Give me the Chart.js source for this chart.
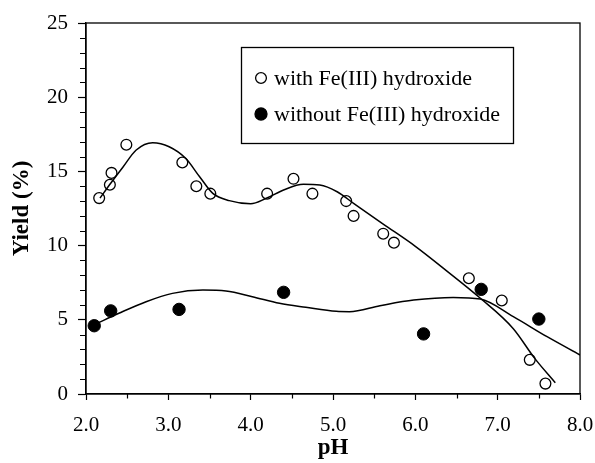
<!DOCTYPE html>
<html>
<head>
<meta charset="utf-8">
<script src="https://cdn.jsdelivr.net/npm/chart.js@4/dist/chart.umd.min.js"></script>
<style>
html,body{margin:0;padding:0;background:#fff;}
#wrap{width:595px;height:463px;position:relative;}
</style>
</head>
<body>
<div id="wrap"><canvas id="c" width="595" height="463"></canvas></div>
<script>
// ---- data ----
const withLabel = 'with Fe(III) hydroxide';
const withoutLabel = 'without Fe(III) hydroxide';
const withX = [2.16, 2.29, 2.31, 2.49, 3.17, 3.34, 3.51, 4.20, 4.52, 4.75, 5.16, 5.25, 5.61, 5.74, 6.65, 7.05, 7.39, 7.58];
const withY = [13.2, 14.1, 14.9, 16.8, 15.6, 14.0, 13.5, 13.5, 14.5, 13.5, 13.0, 12.0, 10.8, 10.2, 7.8, 6.3, 2.3, 0.7];
const withoutX = [2.10, 2.30, 3.13, 4.40, 6.10, 6.80, 7.50];
const withoutY = [4.6, 5.6, 5.7, 6.85, 4.05, 7.05, 5.05];
// fitted curves (traced)
const fitWithX = [2.17, 2.30, 2.45, 2.61, 2.81, 3.01, 3.21, 3.38, 3.54, 3.74, 4.00, 4.19, 4.40, 4.64, 4.84, 5.05, 5.25, 5.61, 6.00, 6.38, 6.79, 7.19, 7.45, 7.70];
const fitWithY = [13.2, 14.2, 15.3, 16.44, 16.93, 16.66, 15.88, 14.64, 13.52, 13.03, 12.82, 13.19, 13.75, 14.13, 14.08, 13.63, 12.85, 11.45, 9.95, 8.3, 6.45, 4.4, 2.4, 0.76];
const fitWithoutX = [2.12, 2.40, 2.73, 3.05, 3.42, 3.70, 4.02, 4.35, 4.67, 5.04, 5.20, 5.57, 5.98, 6.46, 6.79, 7.19, 7.60, 8.00];
const fitWithoutY = [4.72, 5.44, 6.22, 6.78, 7.0, 6.94, 6.56, 6.11, 5.84, 5.57, 5.55, 5.95, 6.33, 6.51, 6.40, 5.21, 3.86, 2.63];
const xMin = 2, xMax = 8, xMajor = 1, xMinor = 0.5;
const yMin = 0, yMax = 25, yMajor = 5, yMinor = 1;
const xTitle = 'pH';
const yTitle = 'Yield (%)';

const zip = (xs, ys) => xs.map((x, i) => ({x: x, y: ys[i]}));
const FONT = 'Liberation Serif';

const frameAndMinor = {
  id: 'frameAndMinor',
  afterDraw(chart) {
    const ctx = chart.ctx, a = chart.chartArea;
    const xs = chart.scales.x, ys = chart.scales.y;
    ctx.save();
    ctx.strokeStyle = '#000';
    ctx.lineWidth = 1.3;
    ctx.strokeRect(a.left, a.top, a.right - a.left, a.bottom - a.top);
    ctx.lineWidth = 1.2;
    ctx.beginPath();
    for (let v = xMin + xMinor; v < xMax; v += xMajor) {
      const px = Math.round(xs.getPixelForValue(v)) + 0.5;
      ctx.moveTo(px, a.bottom); ctx.lineTo(px, a.bottom + 4.5);
    }
    for (let v = yMin + yMinor; v < yMax; v += yMinor) {
      if (Math.abs(v % yMajor) < 1e-6) continue;
      const py = Math.round(ys.getPixelForValue(v)) + 0.5;
      ctx.moveTo(a.left, py); ctx.lineTo(a.left - 6, py);
    }
    ctx.stroke();
    // legend
    const bx = 241, by = 47, bw = 272, bh = 96;
    ctx.lineWidth = 1.3;
    ctx.strokeRect(bx + 0.5, by + 0.5, bw, bh);
    const items = chart.data.datasets.filter(d => d.legend);
    ctx.font = '22px ' + FONT;
    ctx.textBaseline = 'middle';
    ctx.fillStyle = '#000';
    items.forEach((d, i) => {
      const cy = 78 + i * 36;
      ctx.beginPath();
      ctx.arc(261, cy, i === 0 ? 5.4 : 6, 0, Math.PI * 2);
      if (d.backgroundColor !== 'rgba(0,0,0,0)') { ctx.fillStyle = '#000'; ctx.fill(); }
      ctx.lineWidth = 1.3; ctx.stroke();
      ctx.fillStyle = '#000';
      ctx.fillText(d.label, 274, cy + 1);
    });
    ctx.restore();
  }
};

new Chart(document.getElementById('c'), {
  type: 'scatter',
  data: {
    datasets: [
      {label: 'fit with', data: zip(fitWithX, fitWithY), showLine: true, cubicInterpolationMode: 'monotone', borderColor: '#000', borderWidth: 1.5, pointRadius: 0, order: 3},
      {label: 'fit without', data: zip(fitWithoutX, fitWithoutY), showLine: true, cubicInterpolationMode: 'monotone', borderColor: '#000', borderWidth: 1.5, pointRadius: 0, order: 3},
      {label: withLabel, legend: true, data: zip(withX, withY), pointRadius: 5.4, pointBorderWidth: 1.3, borderColor: '#000', backgroundColor: 'rgba(0,0,0,0)', order: 1},
      {label: withoutLabel, legend: true, data: zip(withoutX, withoutY), pointRadius: 6.2, pointBorderWidth: 1, borderColor: '#000', backgroundColor: '#000', order: 2}
    ]
  },
  options: {
    responsive: false,
    animation: false,
    layout: {padding: {top: 23, right: 15, left: 0, bottom: 0}},
    plugins: {legend: {display: false}, tooltip: {enabled: false}},
    scales: {
      x: {
        type: 'linear', min: xMin, max: xMax,
        afterFit: s => { s.height = 69; s.paddingLeft = 0; s.paddingRight = 0; },
        border: {display: true, color: '#000', width: 1.3},
        grid: {display: true, drawOnChartArea: false, drawTicks: true, tickLength: 6, color: '#000', tickWidth: 1.2},
        ticks: {stepSize: xMajor, color: '#000', padding: 13, font: {family: FONT, size: 21}, callback: v => v.toFixed(1), maxRotation: 0},
        title: {display: true, text: xTitle, color: '#000', font: {family: FONT, size: 23, weight: 'bold'}, padding: {top: 0, bottom: 1}}
      },
      y: {
        type: 'linear', min: yMin, max: yMax,
        afterFit: s => { s.width = 86; s.paddingTop = 0; s.paddingBottom = 0; },
        border: {display: true, color: '#000', width: 1.3},
        grid: {display: true, drawOnChartArea: false, drawTicks: true, tickLength: 8, color: '#000', tickWidth: 1.2},
        ticks: {stepSize: yMajor, color: '#000', padding: 10, font: {family: FONT, size: 21}},
        title: {display: true, text: yTitle, color: '#000', font: {family: FONT, size: 23, weight: 'bold'}, padding: {top: 8, bottom: 0}}
      }
    }
  },
  plugins: [frameAndMinor]
});
</script>
</body>
</html>
